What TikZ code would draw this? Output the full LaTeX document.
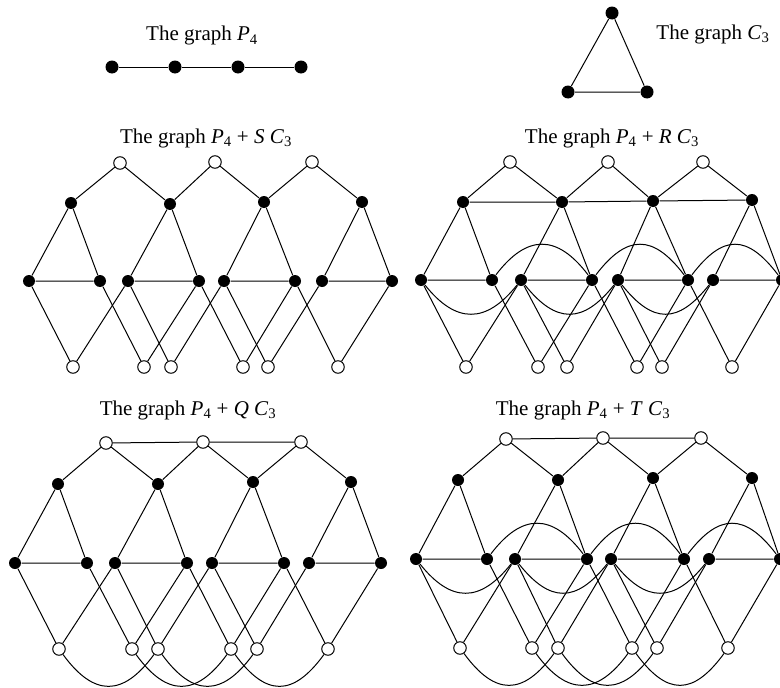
\documentclass[tikz,border=0pt]{standalone}
\usepackage{fontspec}
\setmainfont{Liberation Serif}
\tikzset{
  blk/.style={circle, fill=black, inner sep=0pt, minimum size=12pt},
  wht/.style={circle, draw, fill=white, inner sep=0pt, minimum size=12.5pt},
  lbl/.style={anchor=base, font=\fontsize{21}{25}\selectfont},
}
\newcommand{\Pf}{\textit{P}\textsubscript{4}}
\newcommand{\Ct}{\textit{C}\textsubscript{3}}
% nodes of one P4 + F C3 picture: #1 prefix, #2 top, #3 upper, #4 middle y, #5 middle x, #6 bottom y, #7 bottom x
\newcommand{\sumnodes}[7]{%
  \foreach \n/\x/\y in {#2} \node[wht] (#1t\n) at (\x,\y) {};
  \foreach \n/\x/\y in {#3} \node[blk] (#1u\n) at (\x,\y) {};
  \foreach \x [count=\n] in {#5} \node[blk] (#1m\n) at (\x,#4) {};
  \foreach \x [count=\n] in {#7} \node[wht] (#1b\n) at (\x,#6) {};
}
% edges that all four pictures share
\newcommand{\sumedges}[1]{%
  \foreach \j/\k in {1/2,2/3,3/4} \draw (#1u\j) -- (#1t\j) -- (#1u\k);
  \foreach \i/\p/\q in {1/1/2,2/3/4,3/5/6,4/7/8} \draw (#1u\i) -- (#1m\p) -- (#1m\q) -- (#1u\i);
  \foreach \w/\p/\q in {1/1/3,2/2/4,3/3/5,4/4/6,5/5/7,6/6/8} \draw (#1m\p) -- (#1b\w) -- (#1m\q);
}
% curved edges between the middle nodes
\newcommand{\midarcs}[1]{%
  \foreach \p/\q in {1/3,3/5,5/7} \draw (#1m\p) .. controls +(35,44) and +(-35,44) .. (#1m\q);
  \foreach \p/\q in {2/4,4/6,6/8} \draw (#1m\p) .. controls +(35,-46) and +(-35,-46) .. (#1m\q);
}
% curved edges under the bottom nodes
\newcommand{\lowarcs}[1]{%
  \foreach \p/\q in {1/3,2/4,3/5,4/6} \draw (#1b\p) .. controls +(35,48) and +(-35,48) .. (#1b\q);
}

\begin{document}
\begin{tikzpicture}[x=1pt, y=-1pt, line width=1pt]
  \useasboundingbox (0,0) rectangle (780,688);

  % P4 and C3
  \node[lbl] (lblP) at (202,41) {The graph \Pf};
  \foreach \n/\x in {1/112,2/175,3/238,4/301} \node[blk, minimum size=13pt] (p\n) at (\x,67) {};
  \draw (p1) -- (p2) -- (p3) -- (p4);
  \node[lbl] (lblC) at (713,39) {The graph \Ct};
  \node[blk, minimum size=13pt] (c1) at (612,13) {};
  \node[blk, minimum size=13pt] (c2) at (568,92) {};
  \node[blk, minimum size=13pt] (c3) at (647,92) {};
  \draw (c1) -- (c2) -- (c3) -- (c1);

  % P4 + S C3
  \node[lbl] (lblS) at (206,143) {The graph \Pf\ + \textit{S} \Ct};
  \sumnodes{S}{1/120/163,2/215/162,3/312/162}{1/71/203,2/170/204,3/264/202,4/362/202}
    {281}{29,100,128,199,224,295,322,392}{367}{73,144,171,243,268,338}
  \sumedges{S}

  % P4 + R C3
  \node[lbl] (lblR) at (612,143) {The graph \Pf\ + \textit{R} \Ct};
  \sumnodes{R}{1/510/162,2/608/162,3/703/162}{1/463/202,2/562/202,3/653/201,4/752/200}
    {280}{421,492,521,592,618,688,713,782}{367}{466,538,567,637,662,732}
  \sumedges{R}
  \draw (Ru1) -- (Ru2) -- (Ru3) -- (Ru4);
  \midarcs{R}

  % P4 + Q C3
  \node[lbl] (lblQ) at (188,415) {The graph \Pf\ + \textit{Q} \Ct};
  \sumnodes{Q}{1/106/443,2/203/442,3/301/442}{1/58/484,2/158/484,3/253/482,4/351/482}
    {563}{15,87,115,187,212,284,309,381}{649}{59,132,158,231,257,328}
  \sumedges{Q}
  \draw (Qt1) -- (Qt2) -- (Qt3);
  \lowarcs{Q}

  % P4 + T C3
  \node[lbl] (lblT) at (583,415) {The graph \Pf\ + \textit{T} \Ct};
  \sumnodes{T}{1/506/439,2/603/438,3/701/438}{1/458/480,2/558/480,3/653/478,4/752/478}
    {559}{416,487,515,587,611,684,709,780}{648}{460,532,558,632,657,728}
  \sumedges{T}
  \draw (Tt1) -- (Tt2) -- (Tt3);
  \midarcs{T}
  \lowarcs{T}
\end{tikzpicture}
\end{document}
